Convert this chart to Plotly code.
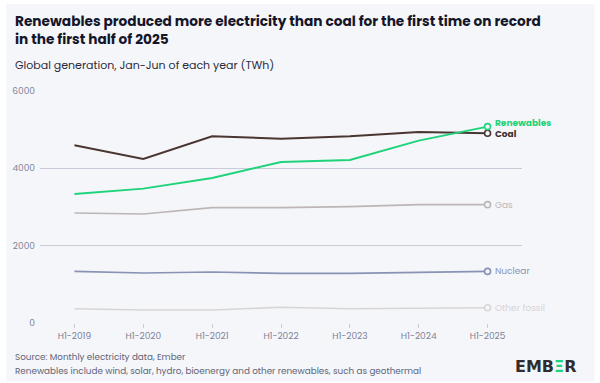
import plotly.graph_objects as go

years = ["H1-2019", "H1-2020", "H1-2021", "H1-2022", "H1-2023", "H1-2024", "H1-2025"]
coal = [4595, 4243, 4828, 4768, 4828, 4942, 4906]
renewables = [3338, 3475, 3752, 4166, 4217, 4717, 5079]
gas = [2846, 2820, 2984, 2984, 3009, 3061, 3061]
nuclear = [1335, 1294, 1320, 1283, 1283, 1310, 1335]
other_fossil = [370, 336, 336, 406, 370, 388, 396]
y_ticks = [0, 2000, 4000, 6000]

series = [
    ("Other fossil", other_fossil, "#d8d5d5", "#d6d4d4", 1.6, False, 0),
    ("Nuclear", nuclear, "#8893b3", "#8a95b5", 1.6, False, 0),
    ("Gas", gas, "#bcb6b6", "#bbb7b7", 1.6, False, 0),
    ("Coal", coal, "#4a3631", "#3f302c", 2.0, True, -1),
    ("Renewables", renewables, "#1fd37a", "#1fd37a", 2.0, True, 4),
]

FONT = "Poppins, Inter, sans-serif"
PH = 232.0
PW = 485.0
fig = go.Figure()
annotations = []
for name, vals, col, tcol, w, bold, ysh in series:
    fig.add_trace(go.Scatter(
        x=years, y=vals, mode="lines", name=name,
        line=dict(color=col, width=w), hoverinfo="skip", showlegend=False))
    fig.add_trace(go.Scatter(
        x=[years[-1]], y=[vals[-1]], mode="markers", showlegend=False,
        marker=dict(size=6, color="#f5f6fa", line=dict(color=col, width=1.6)),
        hoverinfo="skip"))
    txt = f"<b>{name}</b>" if bold else name
    annotations.append(dict(
        x=years[-1], y=vals[-1], xref="x", yref="y", text=txt,
        showarrow=False, xanchor="left", xshift=5, yshift=ysh,
        font=dict(family=FONT, size=9, color=tcol)))


def px_x(x):
    return (x - 37) / PW


def px_y(y):
    return (323 - y) / PH


annotations += [
    dict(text="<b>Renewables produced more electricity than coal for the first time on record<br>in the first half of 2025</b>",
         xref="paper", yref="paper", x=px_x(10), y=px_y(10), xanchor="left", yanchor="top",
         align="left", showarrow=False, font=dict(family=FONT, size=13.7, color="#15162a")),
    dict(text="Global generation, Jan-Jun of each year (TWh)",
         xref="paper", yref="paper", x=px_x(10), y=px_y(55), xanchor="left", yanchor="top",
         align="left", showarrow=False, font=dict(family=FONT, size=11, color="#2a2b3a")),
    dict(text="Source: Monthly electricity data, Ember",
         xref="paper", yref="paper", x=px_x(10), y=px_y(357), xanchor="left", yanchor="middle",
         align="left", showarrow=False, font=dict(family=FONT, size=8.8, color="#5f6478")),
    dict(text="Renewables include wind, solar, hydro, bioenergy and other renewables, such as geothermal",
         xref="paper", yref="paper", x=px_x(10), y=px_y(371), xanchor="left", yanchor="middle",
         align="left", showarrow=False, font=dict(family=FONT, size=8.8, color="#5f6478")),
    dict(text="<b>EMB<span style='color:#1fd37a'>Ξ</span>R</b>",
         xref="paper", yref="paper", x=px_x(578), y=px_y(366), xanchor="right", yanchor="middle",
         showarrow=False, font=dict(family="DejaVu Sans, sans-serif", size=16, color="#2e2e2e")),
]

fig.update_layout(
    width=600, height=383,
    margin=dict(l=37, r=78, t=91, b=60),
    paper_bgcolor="#ffffff",
    plot_bgcolor="#f5f6fa",
    font=dict(family=FONT),
    annotations=annotations,
    shapes=[dict(type="rect", xref="paper", yref="paper", layer="below",
                 x0=px_x(3), x1=px_x(595), y0=px_y(381), y1=px_y(4),
                 fillcolor="#f5f6fa", line=dict(width=0))],
    xaxis=dict(type="category", range=[-0.5, 6.5], showgrid=False, zeroline=False,
               ticks="outside", ticklen=4, tickcolor="#c9ccd8", showline=False,
               tickfont=dict(family=FONT, size=9, color="#7c8299")),
    yaxis=dict(range=[0, 6000], tickvals=y_ticks, showgrid=True, gridcolor="#c9ccd8",
               gridwidth=1, zeroline=False, showline=False, ticks="",
               tickfont=dict(family=FONT, size=9, color="#7c8299"), ticklabelstandoff=4),
)

fig.write_html("out.html", config={"displayModeBar": False},
               post_script="document.body.style.margin='0';document.body.style.overflow='hidden';")
